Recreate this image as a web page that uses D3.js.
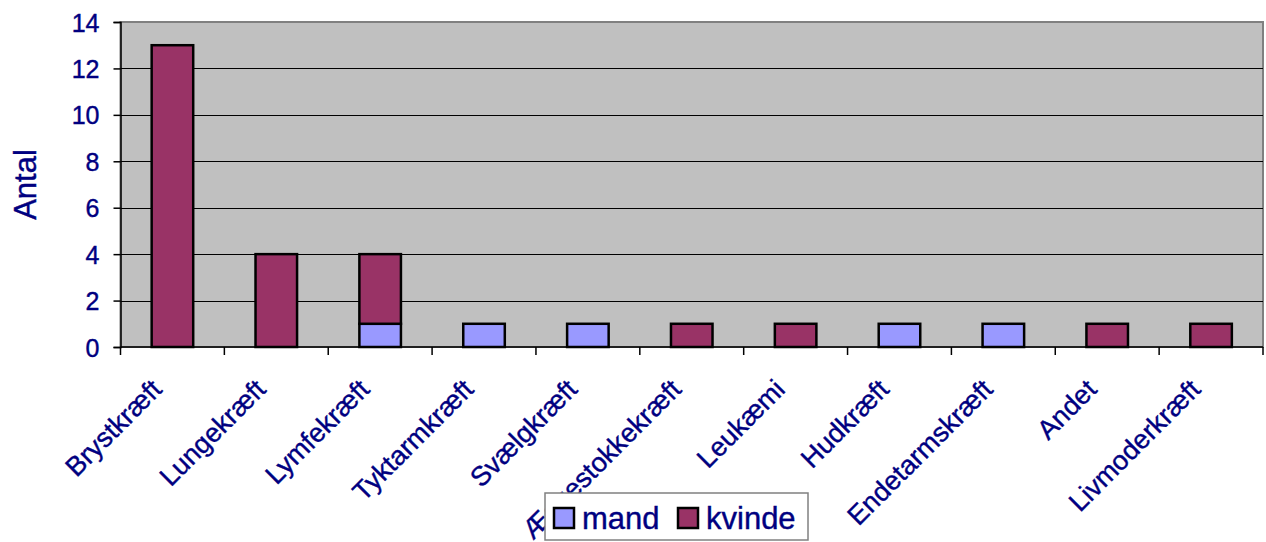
<!DOCTYPE html>
<html>
<head>
<meta charset="utf-8">
<script src="https://cdn.jsdelivr.net/npm/d3@7"></script>
<style>
  body { margin: 0; background: #fff; }
  svg { display: block; font-family: Arial, "Liberation Sans", sans-serif; }
  .lbl { stroke: #000080; stroke-width: 0.4px; }
</style>
</head>
<body>
<svg width="1266" height="542"></svg>
<script>
const categories = ["Brystkræft", "Lungekræft", "Lymfekræft", "Tyktarmkræft", "Svælgkræft",
    "Æggestokkekræft", "Leukæmi", "Hudkræft", "Endetarmskræft", "Andet", "Livmoderkræft"];
const mand   = [0, 0, 1, 1, 1, 0, 0, 1, 1, 0, 0];
const kvinde = [13, 4, 3, 0, 0, 1, 1, 0, 0, 1, 1];
const seriesNames = ["mand", "kvinde"];
const yTicks = [0, 2, 4, 6, 8, 10, 12, 14];

const colors = { mand: "#9999FF", kvinde: "#993366" };
const textColor = "#000080";

const svg = d3.select("svg");
const plot = { left: 120.5, right: 1263, top: 22, bottom: 347 };

const x = d3.scaleBand()
    .domain(categories)
    .range([plot.left, plot.right])
    .paddingInner(0.6)
    .paddingOuter(0.3);

const xBand = d3.scaleBand().domain(categories).range([plot.left, plot.right]);

const y = d3.scaleLinear().domain([0, 14]).range([plot.bottom, plot.top]);

// plot background
svg.append("rect")
    .attr("x", plot.left).attr("y", plot.top)
    .attr("width", plot.right - plot.left).attr("height", plot.bottom - plot.top)
    .attr("fill", "#C0C0C0")
    .attr("stroke", "#808080").attr("stroke-width", 2);

// gridlines
svg.append("g").selectAll("line")
    .data(yTicks.filter(d => d > 0 && d < 14))
    .join("line")
    .attr("x1", plot.left).attr("x2", plot.right)
    .attr("y1", d => Math.round(y(d)) + 0.5).attr("y2", d => Math.round(y(d)) + 0.5)
    .attr("stroke", "#000").attr("stroke-width", 1);

// stacked bars
const rows = categories.map((c, i) => ({ cat: c, mand: mand[i], kvinde: kvinde[i] }));
const stack = d3.stack().keys(seriesNames)(rows);

svg.append("g").selectAll("g")
    .data(stack)
    .join("g")
    .attr("fill", d => colors[d.key])
    .selectAll("rect")
    .data(d => d.filter(p => p[1] - p[0] > 0))
    .join("rect")
    .attr("x", d => x(d.data.cat))
    .attr("y", d => y(d[1]))
    .attr("width", x.bandwidth())
    .attr("height", d => y(d[0]) - y(d[1]))
    .attr("stroke", "#000")
    .attr("stroke-width", 2.5);

// y axis
const yAxis = svg.append("g")
    .attr("transform", `translate(${plot.left},0)`)
    .call(d3.axisLeft(y).tickValues(yTicks).tickSize(7).tickPadding(14));
yAxis.select(".domain").attr("stroke", "#000").attr("stroke-width", 1.5);
yAxis.selectAll(".tick line").attr("stroke", "#000").attr("stroke-width", 1.5);
yAxis.selectAll(".tick text")
    .attr("class", "lbl")
    .attr("fill", textColor)
    .style("font-size", "25px")
    .attr("dy", "0.36em");

// x axis line and ticks at category boundaries
svg.append("line")
    .attr("x1", plot.left).attr("x2", plot.right)
    .attr("y1", plot.bottom).attr("y2", plot.bottom)
    .attr("stroke", "#000").attr("stroke-width", 1.5);

const boundaries = categories.map(c => xBand(c)).concat([plot.right]);
svg.append("g").selectAll("line")
    .data(boundaries)
    .join("line")
    .attr("x1", d => d).attr("x2", d => d)
    .attr("y1", plot.bottom).attr("y2", plot.bottom + 8)
    .attr("stroke", "#000").attr("stroke-width", 1.5);

// x labels rotated
svg.append("g").selectAll("text")
    .data(categories)
    .join("text")
    .attr("class", "lbl")
    .attr("transform", d => `translate(${xBand(d) + xBand.bandwidth() / 2 - 9},${plot.bottom + 44}) rotate(-45)`)
    .attr("text-anchor", "end")
    .attr("fill", textColor)
    .style("font-size", "27px")
    .text(d => d);

// y axis title
svg.append("text")
    .attr("class", "lbl")
    .attr("transform", `translate(36,${(plot.top + plot.bottom) / 2}) rotate(-90)`)
    .attr("text-anchor", "middle")
    .attr("fill", textColor)
    .style("font-size", "31px")
    .text("Antal");

// legend
const legend = svg.append("g");
legend.append("rect")
    .attr("x", 545).attr("y", 493).attr("width", 263).attr("height", 47)
    .attr("fill", "#fff").attr("stroke", "#808080").attr("stroke-width", 1.5);

const legendX = [554, 678];
seriesNames.forEach((name, i) => {
    legend.append("rect")
        .attr("x", legendX[i]).attr("y", 508).attr("width", 20).attr("height", 20)
        .attr("fill", colors[name]).attr("stroke", "#000").attr("stroke-width", 2.5);
    legend.append("text")
        .attr("class", "lbl")
        .attr("x", legendX[i] + 28).attr("y", 529)
        .attr("fill", textColor)
        .style("font-size", "31px")
        .text(name);
});
</script>
</body>
</html>
